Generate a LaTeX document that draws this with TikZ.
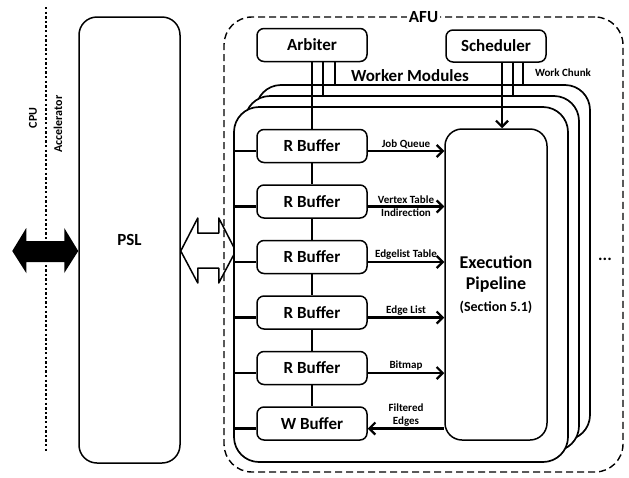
\documentclass[tikz,border=0pt]{standalone}
\usepackage{fontspec}
\setmainfont{Carlito}
\usepackage{tikz}
\usetikzlibrary{arrows.meta,positioning,calc}
\newcommand{\bigtxt}{\bfseries\fontsize{17}{19}\selectfont}
\newcommand{\smalltxt}{\bfseries\fontsize{11}{12.5}\selectfont}

\begin{document}
\begin{tikzpicture}[x=1pt,y=-1pt,line join=round,
    >={Straight Barb[length=6pt,width=12pt]},
    blk/.style={draw,line width=1.5pt,rounded corners=7pt,fill=white,
      minimum width=110pt,minimum height=33pt,inner sep=0pt,font=\bigtxt},
    module/.style={draw,line width=1.7pt,rounded corners=25pt,fill=white,
      minimum width=334pt,minimum height=355pt},
    bus/.style={line width=2.2pt},
    flow/.style={line width=2.2pt},
    lbl/.style={font=\smalltxt,inner sep=1.5pt}]
  \useasboundingbox (0,0) rectangle (629,477);
  \coordinate (divtop) at (46,7);
  \coordinate (divbot) at (46,453);
  \draw[line width=2.6pt,dash pattern=on 2.4pt off 2.2pt] (divtop) -- (divbot);
  \node[rotate=90,font=\bfseries\fontsize{12}{13}\selectfont] (cpu) at (33,118) {CPU};
  \node[rotate=90,font=\bfseries\fontsize{12}{13}\selectfont] (acc) at (58,124) {Accelerator};

  \node[draw,line width=1.5pt,rounded corners=18pt,minimum width=101pt,
    minimum height=446pt,font=\bigtxt] (psl) at (129.5,240) {PSL};
  \coordinate (cpulink) at ([yshift=-11pt]psl.west);
  \coordinate (afulink) at ([yshift=-11pt]psl.east);
  \fill[shift={(cpulink)}] (-66,0) -- (-52,-23) -- (-52,-10) -- (-14,-10) -- (-14,-23)
    -- (0,0) -- (-14,22) -- (-14,11) -- (-52,11) -- (-52,22) -- cycle;
  \draw[line width=1.5pt,shift={(afulink)}] (0,0) -- (17,-33) -- (17,-18) -- (38,-18)
    -- (38,-33) -- (55,0) -- (38,32) -- (38,17) -- (17,17) -- (17,32) -- cycle;

  \node[draw,line width=1.4pt,dash pattern=on 7pt off 4pt,rounded corners=28pt,
    minimum width=399pt,minimum height=455pt] (afu) at (423.5,244.5) {};
  \node[fill=white,font=\bigtxt,inner sep=2pt] (afulbl) at ([yshift=-1pt]afu.north) {AFU};

  \node[blk] (arb) at (312,45) {Arbiter};
  \node[blk,minimum width=100pt,minimum height=32pt] (sch) at (496,46) {Scheduler};

  \foreach \k/\d in {3/22,2/11,1/0}
    \node[module] (wm\k) at (401+\d,284.5-\d) {};
  \node[font=\bigtxt] (wmlbl) at (410,76) {Worker Modules};
  \node[font=\smalltxt] (chunk) at (563,73) {Work Chunk};
  \node[font=\bigtxt] (more) at (605,259) {...};

  \foreach \i/\y in {1/146,2/201.5,3/257,4/312.5,5/368}
    \node[blk] (rb\i) at (312,\y) {R Buffer};
  \node[blk] (rb6) at (312,423.5) {W Buffer};
  \node[draw,line width=1.5pt,rounded corners=17pt,fill=white,minimum width=102pt,
    minimum height=311pt,align=center,font=\bfseries\fontsize{18}{21}\selectfont]
    (exec) at (496,284.5) {Execution\\Pipeline\\[1pt]{\fontsize{14}{16}\selectfont(Section 5.1)}};

  \draw[bus] (arb) -- (rb1);
  \foreach \a/\b in {rb1/rb2,rb2/rb3,rb3/rb4,rb4/rb5,rb5/rb6}
    \draw[bus] (\a) -- (\b);
  \coordinate (a2) at ([xshift=11pt]arb.south);
  \coordinate (a3) at ([xshift=23pt]arb.south);
  \coordinate (s1) at ([xshift=6pt]sch.south);
  \coordinate (s2) at ([xshift=17pt]sch.south);
  \coordinate (s3) at ([xshift=27pt]sch.south);
  \draw[bus] (a2) -- (a2 |- wm2.north);
  \draw[bus] (a3) -- (a3 |- wm3.north);
  \draw[bus] (s2) -- (s2 |- wm2.north);
  \draw[bus] (s3) -- (s3 |- wm3.north);
  \draw[flow,->] (s1) -- (s1 |- exec.north);

  \foreach \i in {1,...,6}{
    \coordinate (p\i) at ([yshift=-5pt]rb\i.west);
    \coordinate (q\i) at ([yshift=-5pt]rb\i.east);
    \draw[bus] (p\i -| wm1.west) -- (p\i);
  }
  \foreach \i/\t in {1/Job Queue,3/Edgelist Table,4/Edge List,5/Bitmap}
    \draw[flow,->] (q\i) -- (q\i -| exec.west) node[lbl,midway,above] {\t};
  \draw[flow,->] (q2) -- (q2 -| exec.west) node[lbl,midway,above] {Vertex Table}
    node[lbl,midway,below] {Indirection};
  \draw[flow,<-] (q6) -- (q6 -| exec.west)
    node[lbl,midway,above,align=center] {Filtered\\Edges};
\end{tikzpicture}
\end{document}
